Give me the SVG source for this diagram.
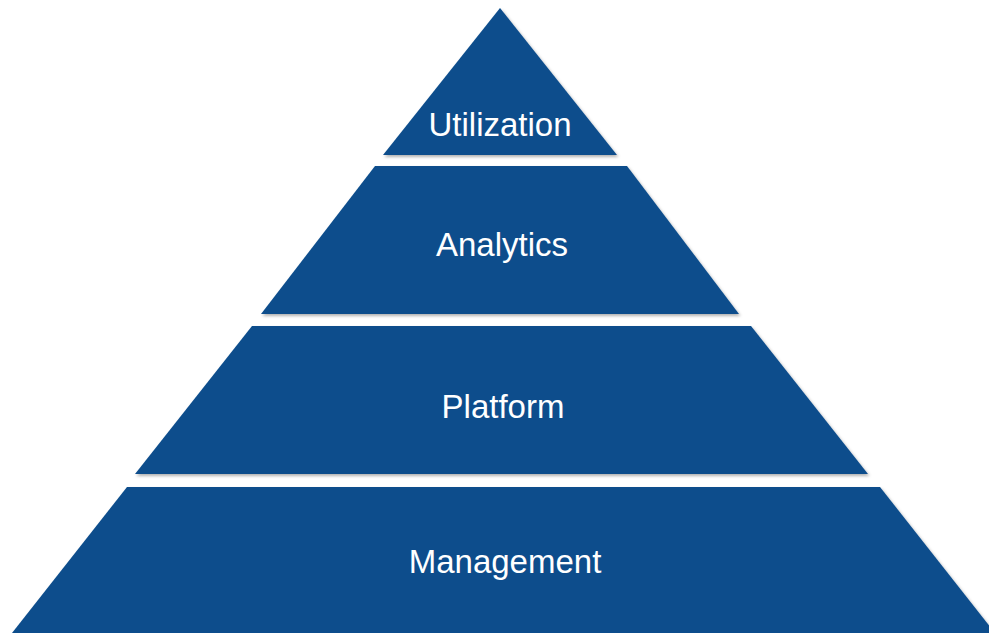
<svg xmlns="http://www.w3.org/2000/svg" width="989" height="633" viewBox="0 0 989 633">
  <defs>
    <filter id="sh" x="-5%" y="-5%" width="110%" height="115%">
      <feDropShadow dx="1.5" dy="2" stdDeviation="1.5" flood-color="#000" flood-opacity="0.3"/>
    </filter>
  </defs>
  <style>
    .layer { fill: #0C4D8C; filter: url(#sh); }
    .lbl { fill: #FFFFFF; font-family: "Liberation Sans", Arial, sans-serif; font-size: 33px; text-anchor: middle; }
  </style>
  <rect width="989" height="633" fill="#FFFFFF"/>
  <g id="utilization">
    <polygon class="layer" points="500,8 617,155 383,155"/>
    <text class="lbl" x="500" y="136">Utilization</text>
  </g>
  <g id="analytics">
    <polygon class="layer" points="375,166 627,166 739,314 261,314"/>
    <text class="lbl" x="502" y="256">Analytics</text>
  </g>
  <g id="platform">
    <polygon class="layer" points="252,326 751,326 868,474 135,474"/>
    <text class="lbl" x="503" y="418">Platform</text>
  </g>
  <g id="management">
    <polygon class="layer" points="127,487 880,487 995,633 12,633"/>
    <text class="lbl" x="505" y="573">Management</text>
  </g>
  <g id="connectors"></g>
</svg>
